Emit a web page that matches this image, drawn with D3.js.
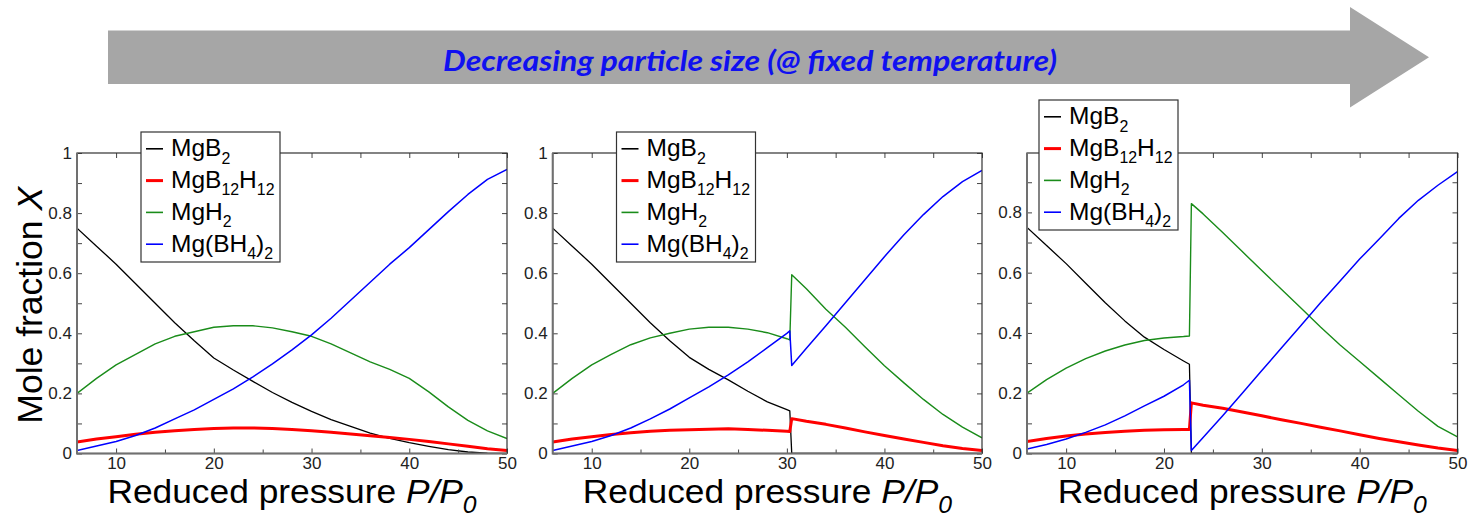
<!DOCTYPE html>
<html>
<head>
<meta charset="utf-8">
<script src="https://cdn.jsdelivr.net/npm/d3@7"></script>
<style>
  body { margin: 0; background: #fff; }
  svg { display: block; }
</style>
</head>
<body>
<svg id="chart" width="1472" height="518"></svg>
<script>
// ---- series definitions ----
const SERIES = ["MgB2", "MgB12H12", "MgH2", "Mg(BH4)2"];
const SERIES_COLORS = ["#000000", "#ff0000", "#1a8c1a", "#0000ff"];
const SERIES_WIDTHS = [1.3, 3, 1.4, 1.5];

// ---- axis ticks ----
const X_TICKS = [10, 20, 30, 40, 50];
const X_MINOR = [15, 25, 35, 45];
const Y_TICKS = [0, 0.2, 0.4, 0.6, 0.8, 1];
const Y_MINOR = [0.1, 0.3, 0.5, 0.7, 0.9];

// ---- panel A: no transition ----
const A_P = [6, 8, 10, 12, 14, 16, 18, 20, 22, 24, 26, 28, 30, 32, 34, 36, 38, 40, 42, 44, 46, 48, 50];
const A_MgB2 = [0.75, 0.69, 0.63, 0.565, 0.50, 0.435, 0.375, 0.318, 0.278, 0.24, 0.203, 0.17, 0.14, 0.113, 0.09, 0.068, 0.05, 0.036, 0.024, 0.013, 0.005, 0.001, 0];
const A_MgB12H12 = [0.038, 0.048, 0.056, 0.064, 0.071, 0.076, 0.080, 0.083, 0.085, 0.085, 0.083, 0.080, 0.076, 0.071, 0.065, 0.059, 0.053, 0.047, 0.040, 0.032, 0.024, 0.016, 0.010];
const A_MgH2 = [0.20, 0.25, 0.295, 0.33, 0.365, 0.39, 0.405, 0.42, 0.425, 0.425, 0.418, 0.405, 0.39, 0.365, 0.335, 0.305, 0.28, 0.25, 0.205, 0.155, 0.11, 0.075, 0.05];
const A_MgBH42 = [0.01, 0.025, 0.04, 0.06, 0.085, 0.115, 0.145, 0.18, 0.215, 0.255, 0.298, 0.345, 0.395, 0.45, 0.51, 0.57, 0.63, 0.685, 0.745, 0.805, 0.862, 0.912, 0.945];

// ---- panel B: transition near P/P0 = 30.4 ----
const B_P_LOW = [6, 8, 10, 12, 14, 16, 18, 20, 22, 24, 26, 28, 30, 30.3];
const B_P_HIGH = [30.5, 32, 34, 36, 38, 40, 42, 44, 46, 48, 50];
const B_MgB2_LOW = [0.75, 0.69, 0.63, 0.565, 0.5, 0.435, 0.375, 0.32, 0.28, 0.245, 0.207, 0.172, 0.146, 0.142];
const B_MgB2_HIGH = [0, 0, 0, 0, 0, 0, 0, 0, 0, 0, 0];
const B_MgB12H12_LOW = [0.038, 0.048, 0.056, 0.063, 0.069, 0.074, 0.077, 0.079, 0.081, 0.082, 0.080, 0.077, 0.074, 0.073];
const B_MgB12H12_HIGH = [0.116, 0.107, 0.097, 0.085, 0.072, 0.06, 0.048, 0.037, 0.026, 0.017, 0.01];
const B_MgH2_LOW = [0.2, 0.25, 0.295, 0.33, 0.362, 0.385, 0.40, 0.414, 0.42, 0.42, 0.414, 0.402, 0.382, 0.378];
const B_MgH2_HIGH = [0.595, 0.548, 0.48, 0.42, 0.355, 0.292, 0.235, 0.18, 0.13, 0.088, 0.052];
const B_MgBH42_LOW = [0.01, 0.025, 0.04, 0.06, 0.085, 0.115, 0.148, 0.185, 0.222, 0.262, 0.305, 0.352, 0.4, 0.408];
const B_MgBH42_HIGH = [0.293, 0.35, 0.425, 0.502, 0.578, 0.655, 0.728, 0.795, 0.855, 0.905, 0.942];

// ---- panel C: transition near P/P0 = 22.7 ----
const C_P_LOW = [6, 8, 10, 12, 14, 16, 18, 20, 22, 22.6];
const C_P_HIGH = [22.8, 24, 26, 28, 30, 32, 34, 36, 38, 40, 42, 44, 46, 48, 50];
const C_MgB2_LOW = [0.75, 0.69, 0.63, 0.565, 0.5, 0.44, 0.386, 0.345, 0.307, 0.296];
const C_MgB2_HIGH = [0, 0, 0, 0, 0, 0, 0, 0, 0, 0, 0, 0, 0, 0, 0];
const C_MgB12H12_LOW = [0.04, 0.05, 0.058, 0.065, 0.07, 0.074, 0.077, 0.079, 0.08, 0.08];
const C_MgB12H12_HIGH = [0.168, 0.16, 0.15, 0.138, 0.125, 0.112, 0.1, 0.087, 0.075, 0.062, 0.05, 0.039, 0.028, 0.018, 0.01];
const C_MgH2_LOW = [0.2, 0.245, 0.283, 0.315, 0.34, 0.36, 0.375, 0.383, 0.388, 0.39];
const C_MgH2_HIGH = [0.829, 0.795, 0.733, 0.67, 0.607, 0.545, 0.483, 0.42, 0.36, 0.305, 0.25, 0.195, 0.14, 0.09, 0.055];
const C_MgBH42_LOW = [0.015, 0.03, 0.048, 0.07, 0.095, 0.125, 0.158, 0.19, 0.228, 0.243];
const C_MgBH42_HIGH = [0.01, 0.053, 0.125, 0.2, 0.275, 0.35, 0.425, 0.5, 0.572, 0.645, 0.712, 0.78, 0.84, 0.89, 0.935];

const ARROW_TEXT = "Decreasing particle size (@ fixed temperature)";
const Y_TITLE = "Mole fraction ";
const X_TITLE = "Reduced pressure ";

// build point lists
const zipPts = (xs, ys) => xs.map((x, i) => ({ x, y: ys[i] }));
const joinPts = (xl, yl, xh, yh) => zipPts(xl.concat(xh), yl.concat(yh));

const panels = [
  {
    left: 77, right: 507, yMax: 1.0, yTitle: true,
    legend: { x: 141, y: 132 },
    lines: [
      zipPts(A_P, A_MgB2), zipPts(A_P, A_MgB12H12), zipPts(A_P, A_MgH2), zipPts(A_P, A_MgBH42)
    ]
  },
  {
    left: 552.7, right: 982, yMax: 1.0, yTitle: false,
    legend: { x: 616.5, y: 132 },
    lines: [
      joinPts(B_P_LOW, B_MgB2_LOW, B_P_HIGH, B_MgB2_HIGH),
      joinPts(B_P_LOW, B_MgB12H12_LOW, B_P_HIGH, B_MgB12H12_HIGH),
      joinPts(B_P_LOW, B_MgH2_LOW, B_P_HIGH, B_MgH2_HIGH),
      joinPts(B_P_LOW, B_MgBH42_LOW, B_P_HIGH, B_MgBH42_HIGH)
    ]
  },
  {
    left: 1027, right: 1457.5, yMax: 0.997, yTitle: false,
    legend: { x: 1039, y: 100 },
    lines: [
      joinPts(C_P_LOW, C_MgB2_LOW, C_P_HIGH, C_MgB2_HIGH),
      joinPts(C_P_LOW, C_MgB12H12_LOW, C_P_HIGH, C_MgB12H12_HIGH),
      joinPts(C_P_LOW, C_MgH2_LOW, C_P_HIGH, C_MgH2_HIGH),
      joinPts(C_P_LOW, C_MgBH42_LOW, C_P_HIGH, C_MgBH42_HIGH)
    ]
  }
];

const TOP = 153, BOTTOM = 453.5;
const FONT = "'Liberation Sans', Arial, Helvetica, sans-serif";

const svg = d3.select("#chart");
svg.append("rect").attr("width", 1472).attr("height", 518).attr("fill", "#fff");

// ---- big arrow banner ----
const arrowPts = [[108, 30.5], [1350, 30.5], [1350, 7], [1429, 57.3], [1350, 107.6], [1350, 84], [108, 84]];
svg.append("polygon")
  .attr("points", arrowPts.map(p => p.join(",")).join(" "))
  .attr("fill", "#a6a6a6");
svg.append("text")
  .attr("x", 750).attr("y", 71)
  .attr("text-anchor", "middle")
  .attr("font-family", "Lato, 'Open Sans', sans-serif")
  .attr("font-weight", "bold").attr("font-style", "italic")
  .attr("font-size", 28)
  .attr("fill", "#1010f0")
  .attr("textLength", 614).attr("lengthAdjust", "spacingAndGlyphs")
  .text(ARROW_TEXT);

// rich text with numeric subscripts
function appendRich(textSel, parts, size, subRatio, subDrop) {
  let shifted = false;
  parts.forEach(p => {
    if (!p.text) return;
    const ts = textSel.append("tspan").text(p.text);
    if (p.italic) ts.attr("font-style", "italic");
    if (p.sub) {
      ts.attr("font-size", size * subRatio);
      if (!shifted) { ts.attr("dy", size * subDrop); shifted = true; }
    } else {
      ts.attr("font-size", size);
      if (shifted) { ts.attr("dy", -size * subDrop); shifted = false; }
    }
  });
}
const chemParts = name => name.split(/(\d+)/).map(s => ({ text: s, sub: /^\d+$/.test(s) }));

panels.forEach((pn, pi) => {
  const x = d3.scaleLinear().domain([6, 50]).range([pn.left, pn.right]);
  const y = d3.scaleLinear().domain([0, pn.yMax]).range([BOTTOM, TOP]);
  const g = svg.append("g");

  const clipId = "clip" + pi;
  svg.append("clipPath").attr("id", clipId)
    .append("rect").attr("x", pn.left).attr("y", TOP)
    .attr("width", pn.right - pn.left).attr("height", BOTTOM - TOP);

  // series lines
  const line = d3.line().x(d => x(d.x)).y(d => y(d.y));
  const lg = g.append("g").attr("clip-path", `url(#${clipId})`);
  pn.lines.forEach((pts, si) => {
    lg.append("path").datum(pts)
      .attr("d", line)
      .attr("fill", "none")
      .attr("stroke", SERIES_COLORS[si])
      .attr("stroke-width", SERIES_WIDTHS[si])
      .attr("stroke-linejoin", "round");
  });

  // axes (ticks pointing inward)
  const styleAxis = sel => {
    sel.select(".domain").remove();
    sel.selectAll(".tick line").attr("stroke", "#444").attr("stroke-width", 1);
    sel.selectAll("text").attr("font-family", FONT).attr("font-size", 17).attr("fill", "#222");
  };
  const yMajor = Y_TICKS.filter(v => v <= pn.yMax);
  const fmtY = d => (d === 0 || d === 1) ? d3.format("d")(d) : d3.format(".1f")(d);

  g.append("g").attr("transform", `translate(0,${BOTTOM})`)
    .call(d3.axisBottom(x).tickValues(X_TICKS).tickSize(-5).tickPadding(3).tickFormat(d3.format("d")))
    .call(styleAxis);
  g.append("g").attr("transform", `translate(0,${BOTTOM})`)
    .call(d3.axisBottom(x).tickValues(X_MINOR).tickSize(-4).tickFormat(""))
    .call(styleAxis);
  g.append("g").attr("transform", `translate(0,${TOP})`)
    .call(d3.axisTop(x).tickValues(X_TICKS.concat(X_MINOR)).tickSize(-5).tickFormat(""))
    .call(styleAxis);
  g.append("g").attr("transform", `translate(${pn.left},0)`)
    .call(d3.axisLeft(y).tickValues(yMajor).tickSize(-5).tickPadding(5).tickFormat(fmtY))
    .call(styleAxis);
  g.append("g").attr("transform", `translate(${pn.left},0)`)
    .call(d3.axisLeft(y).tickValues(Y_MINOR).tickSize(-5).tickFormat(""))
    .call(styleAxis);
  g.append("g").attr("transform", `translate(${pn.right},0)`)
    .call(d3.axisRight(y).tickValues(yMajor.concat(Y_MINOR)).tickSize(-5).tickFormat(""))
    .call(styleAxis);

  // frame
  g.append("rect").attr("x", pn.left).attr("y", TOP)
    .attr("width", pn.right - pn.left).attr("height", BOTTOM - TOP)
    .attr("fill", "none").attr("stroke", "#333").attr("stroke-width", 1.2);
  g.append("path")
    .attr("d", `M${pn.left},${TOP}V${BOTTOM}H${pn.right}`)
    .attr("fill", "none").attr("stroke", "#707070").attr("stroke-width", 2);

  // x title (slightly widened)
  const xt = g.append("text")
    .attr("transform", `translate(${(pn.left + pn.right) / 2},503) scale(1.055,1)`)
    .attr("text-anchor", "middle")
    .attr("font-family", FONT).attr("fill", "#000");
  appendRich(xt, [
    { text: X_TITLE }, { text: "P/P", italic: true }, { text: "0", italic: true, sub: true }
  ], 33.5, 0.7, 0.29);

  // y title
  if (pn.yTitle) {
    const yt = g.append("text")
      .attr("transform", `translate(42,${(TOP + BOTTOM) / 2 + 2}) rotate(-90)`)
      .attr("text-anchor", "middle")
      .attr("font-family", FONT).attr("fill", "#000");
    appendRich(yt, [{ text: Y_TITLE }, { text: "X", italic: true }], 35.5, 0.7, 0.3);
  }

  // legend
  const L = pn.legend;
  const lgd = g.append("g").attr("transform", `translate(${L.x},${L.y})`);
  lgd.append("rect").attr("width", 139).attr("height", 130)
    .attr("fill", "#fff").attr("stroke", "#333").attr("stroke-width", 1.2);
  SERIES.forEach((name, si) => {
    const ry = 16.8 + si * 31.8;
    lgd.append("line").attr("x1", 5).attr("x2", 22).attr("y1", ry).attr("y2", ry)
      .attr("stroke", SERIES_COLORS[si]).attr("stroke-width", si === 1 ? 3 : 1.6);
    const t = lgd.append("text").attr("x", 30).attr("y", ry + 7.5)
      .attr("font-family", FONT).attr("fill", "#000");
    appendRich(t, chemParts(name), 24.5, 0.65, 0.3);
  });
});
</script>
</body>
</html>
